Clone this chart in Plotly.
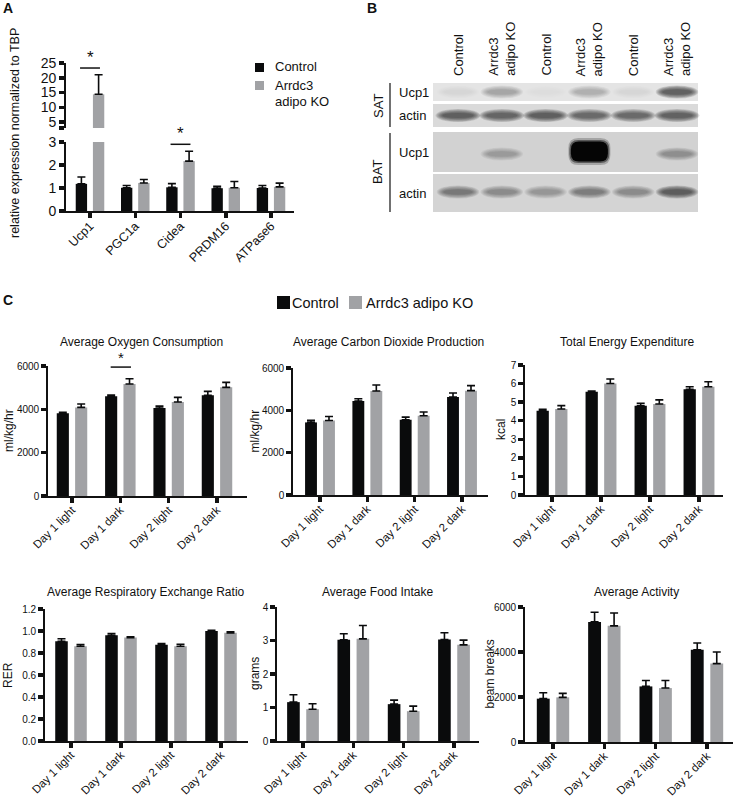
import plotly.graph_objects as go

W, H = 734, 799
FONT = "Liberation Sans, Arial, Helvetica, sans-serif"
INK = "#111111"
BLACK = "#0a0b0c"
GRAY = "#a1a2a5"

# ---------------- data ----------------
genes = ["Ucp1", "PGC1a", "Cidea", "PRDM16", "ATPase6"]
a_ctrl = [1.18, 1.01, 1.03, 0.99, 1.0]
a_ctrl_err = [0.30, 0.10, 0.16, 0.08, 0.11]
a_ko = [14.4, 1.22, 2.17, 1.01, 1.05]
a_ko_err = [6.6, 0.15, 0.43, 0.27, 0.16]

days = ["Day 1 light", "Day 1 dark", "Day 2 light", "Day 2 dark"]
o2_ctrl = [3815, 4600, 4060, 4645]
o2_ctrl_err = [45, 60, 90, 185]
o2_ko = [4090, 5170, 4340, 5015]
o2_ko_err = [155, 245, 210, 230]
co2_ctrl = [3430, 4440, 3555, 4630]
co2_ctrl_err = [95, 110, 125, 190]
co2_ko = [3520, 4910, 3745, 4930]
co2_ko_err = [190, 285, 175, 235]
tee_ctrl = [4.54, 5.56, 4.81, 5.69]
tee_ctrl_err = [0.07, 0.04, 0.13, 0.14]
tee_ko = [4.63, 6.0, 4.9, 5.83]
tee_ko_err = [0.18, 0.25, 0.22, 0.27]
rer_ctrl = [0.907, 0.962, 0.874, 1.0]
rer_ctrl_err = [0.023, 0.015, 0.012, 0.007]
rer_ko = [0.862, 0.94, 0.862, 0.983]
rer_ko_err = [0.015, 0.007, 0.018, 0.009]
food_ctrl = [1.16, 3.02, 1.10, 3.03]
food_ctrl_err = [0.22, 0.18, 0.12, 0.20]
food_ko = [0.95, 3.05, 0.89, 2.87]
food_ko_err = [0.16, 0.40, 0.15, 0.14]
act_ctrl = [1926, 5338, 2470, 4103]
act_ctrl_err = [265, 427, 265, 294]
act_ko = [1985, 5162, 2397, 3485]
act_ko_err = [177, 573, 338, 515]

blot_lanes = ["Control", "Arrdc3<br>adipo KO"] * 3
sat_ucp1 = [0.05, 0.30, 0.03, 0.25, 0.04, 0.85]
sat_actin = [0.80, 0.75, 0.80, 0.72, 0.72, 0.78]
bat_ucp1 = [0.0, 0.30, 0.0, 1.0, 0.0, 0.40]
bat_actin = [0.55, 0.42, 0.32, 0.52, 0.42, 0.85]

# ---------------- helpers ----------------
def X(p):
    return p / W


def Y(p):
    return 1 - p / H


annotations = []
shapes = []
layout = {}


def text(t, x, y, size, **kw):
    d = dict(text=t, x=X(x), y=Y(y), xref="paper", yref="paper", showarrow=False,
             font=dict(family=FONT, size=size, color=INK), xanchor="center", yanchor="middle")
    d.update(kw)
    annotations.append(d)


def err(v):
    return dict(type="data", array=v, arrayminus=[0] * len(v), symmetric=False,
                color=BLACK, thickness=1.6, width=4)


fig = go.Figure()


def add_bars(n, cats, c, ce, k, ke):
    xa = "x" if n == 1 else f"x{n}"
    ya = "y" if n == 1 else f"y{n}"
    fig.add_trace(go.Bar(x=cats, y=c, error_y=err(ce), marker=dict(color=BLACK, line=dict(width=0)),
                         xaxis=xa, yaxis=ya, name="Control", showlegend=False, hoverinfo="skip"))
    fig.add_trace(go.Bar(x=cats, y=k, error_y=err(ke), marker=dict(color=GRAY, line=dict(width=0)),
                         xaxis=xa, yaxis=ya, name="Arrdc3 adipo KO", showlegend=False, hoverinfo="skip"))


def axes(n, xl, xr, yt, yb, c0, cN, ncat, yrange, tickvals, ticktext, ytsize, xtsize,
         xvisible=True):
    step = (cN - c0) / (ncat - 1)
    xk = "xaxis" if n == 1 else f"xaxis{n}"
    yk = "yaxis" if n == 1 else f"yaxis{n}"
    ya = "y" if n == 1 else f"y{n}"
    xa = "x" if n == 1 else f"x{n}"
    layout[xk] = dict(
        domain=[X(xl), X(xr)], range=[(xl - c0) / step, (xr - c0) / step], type="category",
        anchor=ya, showline=True, linecolor=INK, linewidth=1.8, ticks="outside",
        ticklen=5, tickwidth=3.5, tickcolor=INK, tickangle=-45, showgrid=False,
        zeroline=False, visible=xvisible, automargin=False, ticklabelstandoff=-4,
        tickfont=dict(family=FONT, size=xtsize, color=INK), fixedrange=True)
    layout[yk] = dict(
        domain=[Y(yb), Y(yt)], range=yrange, anchor=xa, showline=True, linecolor=INK,
        linewidth=1.8, ticks="outside", ticklen=5, tickwidth=3.5, tickcolor=INK,
        tickvals=tickvals, ticktext=ticktext, showgrid=False, zeroline=False, automargin=False,
        tickfont=dict(family=FONT, size=ytsize, color=INK), fixedrange=True)


# ---------------- panel A ----------------
add_bars(1, genes, a_ctrl, a_ctrl_err, a_ko, a_ko_err)
add_bars(2, genes, a_ctrl, a_ctrl_err, a_ko, a_ko_err)
axes(1, 66, 294, 142, 211, 90, 271, 5, [0, 3], [0, 1, 2, 3], ["0", "1", "2", "3"], 14, 12.5)
axes(2, 66, 294, 63, 128, 90, 271, 5, [3, 25], [3, 5, 10, 15, 20, 25],
     ["", "5", "10", "15", "20", "25"], 14, 12.5, xvisible=False)

# significance marks, panel A
shapes.append(dict(type="line", xref="x2", yref="y2", x0=-0.22, x1=0.22, y0=23.3, y1=23.3,
                   line=dict(color=INK, width=1.5)))
annotations.append(dict(text="*", xref="x2", yref="y2", x=0, y=23.0, showarrow=False,
                        yanchor="bottom", font=dict(family=FONT, size=17, color=INK)))
shapes.append(dict(type="line", xref="x", yref="y", x0=1.78, x1=2.22, y0=2.9, y1=2.9,
                   line=dict(color=INK, width=1.5)))
annotations.append(dict(text="*", xref="x", yref="y", x=2, y=2.85, showarrow=False,
                        yanchor="bottom", font=dict(family=FONT, size=17, color=INK)))

text("relative expression normalized to TBP", 15, 133, 12.5, textangle=-90)
text("<b>A</b>", 8, 8, 14)

# legend A
shapes.append(dict(type="rect", xref="paper", yref="paper", x0=X(255), x1=X(264), y0=Y(72), y1=Y(63),
                   fillcolor=BLACK, line=dict(width=0)))
shapes.append(dict(type="rect", xref="paper", yref="paper", x0=X(255), x1=X(264), y0=Y(90), y1=Y(81),
                   fillcolor=GRAY, line=dict(width=0)))
text("Control", 273, 67, 13, xanchor="left")
text("Arrdc3", 273, 86, 13, xanchor="left")
text("adipo KO", 273, 102, 13, xanchor="left")

# ---------------- panel B (western blot) ----------------
text("<b>B</b>", 372, 8, 14)
BL, BR = 433, 698
lane0, lane_step = 458, 43.8
strips = [(83, 101, "#e4e4e4"), (104, 127, "#dadada"), (132, 172, "#d2d2d2"), (174, 212, "#d4d4d4")]
for (t, b, col) in strips:
    shapes.append(dict(type="rect", xref="paper", yref="paper", x0=X(BL), x1=X(BR), y0=Y(b), y1=Y(t),
                       fillcolor=col, line=dict(width=0), layer="below"))


def band(cx, cy, w, h, v):
    if v <= 0.01:
        return
    nl = 7
    for i in range(nl):
        f = i / (nl - 1)
        ww = w * (1.25 - 0.4 * f)
        hh = h * (2.2 - 1.4 * f)
        shapes.append(dict(type="circle", xref="paper", yref="paper",
                           x0=X(cx - ww / 2), x1=X(cx + ww / 2), y0=Y(cy + hh / 2), y1=Y(cy - hh / 2),
                           fillcolor="#1a1a1a", opacity=min(1.0, 0.16 * v), line=dict(width=0)))


def rounded(x0, x1, y0, y1, r, color, opacity=1.0):
    path = (f"M {X(x0 + r)},{Y(y0)} L {X(x1 - r)},{Y(y0)} Q {X(x1)},{Y(y0)} {X(x1)},{Y(y0 + r)} "
            f"L {X(x1)},{Y(y1 - r)} Q {X(x1)},{Y(y1)} {X(x1 - r)},{Y(y1)} L {X(x0 + r)},{Y(y1)} "
            f"Q {X(x0)},{Y(y1)} {X(x0)},{Y(y1 - r)} L {X(x0)},{Y(y0 + r)} Q {X(x0)},{Y(y0)} {X(x0 + r)},{Y(y0)} Z")
    shapes.append(dict(type="path", xref="paper", yref="paper", path=path,
                       fillcolor=color, opacity=opacity, line=dict(width=0)))


for i, v in enumerate(sat_ucp1):
    band(lane0 + i * lane_step, 92, 34, 6, v)
for i, v in enumerate(sat_actin):
    band(lane0 + i * lane_step, 115.5, 36, 6, v)
for i, v in enumerate(bat_ucp1):
    cx = lane0 + i * lane_step
    if v > 0.9:
        # saturated band: dark rounded block with a soft edge
        rounded(cx - 21, cx + 21, 138, 165, 10, "#1a1a1a", 0.25)
        rounded(cx - 20, cx + 20, 140, 163, 9, "#111111", 0.5)
        rounded(cx - 18.5, cx + 18.5, 141.5, 161.5, 8, "#050505", 1.0)
    else:
        band(cx, 154, 34, 6, v)
for i, v in enumerate(bat_actin):
    band(lane0 + i * lane_step, 192, 34, 6, v)

for i, lab in enumerate(blot_lanes):
    text(lab, lane0 + i * lane_step, 78, 13, textangle=-90, yanchor="bottom", align="left")

text("SAT", 378, 106, 13, textangle=-90)
text("BAT", 378, 172, 13, textangle=-90)
shapes.append(dict(type="line", xref="paper", yref="paper", x0=X(390), x1=X(390), y0=Y(83), y1=Y(127),
                   line=dict(color=INK, width=1.2)))
shapes.append(dict(type="line", xref="paper", yref="paper", x0=X(390), x1=X(390), y0=Y(133), y1=Y(212),
                   line=dict(color=INK, width=1.2)))
text("Ucp1", 397, 92, 13, xanchor="left")
text("actin", 397, 116, 13, xanchor="left")
text("Ucp1", 397, 152, 13, xanchor="left")
text("actin", 397, 193, 13, xanchor="left")

# ---------------- panel C ----------------
text("<b>C</b>", 8, 300, 14)
shapes.append(dict(type="rect", xref="paper", yref="paper", x0=X(277), x1=X(290), y0=Y(309), y1=Y(296),
                   fillcolor=BLACK, line=dict(width=0)))
shapes.append(dict(type="rect", xref="paper", yref="paper", x0=X(349), x1=X(362), y0=Y(309), y1=Y(296),
                   fillcolor=GRAY, line=dict(width=0)))
text("Control", 290, 303, 14.5, xanchor="left")
text("Arrdc3 adipo KO", 364, 303, 14.5, xanchor="left")

panels = [
    dict(xl=48, xr=247, yt=366, yb=496, c0=72, cN=217, ymax=6000, step=2000, fmt="{:.0f}",
         title="Average Oxygen Consumption", tx=141, ty=342, ylab="ml/kg/hr", lx=9,
         c=o2_ctrl, ce=o2_ctrl_err, k=o2_ko, ke=o2_ko_err),
    dict(xl=293, xr=488, yt=368, yb=495, c0=320, cN=462, ymax=6000, step=2000, fmt="{:.0f}",
         title="Average Carbon Dioxide Production", tx=388, ty=342, ylab="ml/kg/hr", lx=254,
         c=co2_ctrl, ce=co2_ctrl_err, k=co2_ko, ke=co2_ko_err),
    dict(xl=525, xr=723, yt=365, yb=495, c0=552, cN=699, ymax=7, step=1, fmt="{:.0f}",
         title="Total Energy Expenditure", tx=627, ty=342, ylab="kcal", lx=501,
         c=tee_ctrl, ce=tee_ctrl_err, k=tee_ko, ke=tee_ko_err),
    dict(xl=45, xr=248, yt=609, yb=741, c0=71, cN=221, ymax=1.2, step=0.2, fmt="{:.1f}",
         title="Average Respiratory Exchange Ratio", tx=146, ty=592, ylab="RER", lx=8,
         c=rer_ctrl, ce=rer_ctrl_err, k=rer_ko, ke=rer_ko_err),
    dict(xl=277, xr=479, yt=607, yb=741, c0=303, cN=454, ymax=4, step=1, fmt="{:.0f}",
         title="Average Food Intake", tx=378, ty=592, ylab="grams", lx=255,
         c=food_ctrl, ce=food_ctrl_err, k=food_ko, ke=food_ko_err),
    dict(xl=525, xr=733, yt=607, yb=742, c0=553, cN=707, ymax=6000, step=2000, fmt="{:.0f}",
         title="Average Activity", tx=636, ty=592, ylab="beam breaks", lx=489,
         c=act_ctrl, ce=act_ctrl_err, k=act_ko, ke=act_ko_err),
]

for j, p in enumerate(panels):
    n = j + 3
    add_bars(n, days, p["c"], p["ce"], p["k"], p["ke"])
    nt = int(round(p["ymax"] / p["step"]))
    tv = [i * p["step"] for i in range(nt + 1)]
    tt = [p["fmt"].format(v) for v in tv]
    axes(n, p["xl"], p["xr"], p["yt"], p["yb"], p["c0"], p["cN"], 4, [0, p["ymax"]], tv, tt, 10, 11.5)
    text(p["title"], p["tx"], p["ty"], 12)
    text(p["ylab"], p["lx"], (p["yt"] + p["yb"]) / 2, 12, textangle=-90)

# significance in oxygen consumption
shapes.append(dict(type="line", xref="x3", yref="y3", x0=0.8, x1=1.22, y0=5950, y1=5950,
                   line=dict(color=INK, width=1.5)))
annotations.append(dict(text="*", xref="x3", yref="y3", x=1.01, y=5900, showarrow=False,
                        yanchor="bottom", font=dict(family=FONT, size=15, color=INK)))

fig.update_layout(
    width=W, height=H, margin=dict(l=0, r=0, t=0, b=0, pad=0, autoexpand=False),
    paper_bgcolor="white", plot_bgcolor="rgba(0,0,0,0)",
    barmode="group", bargap=0.24, bargroupgap=0.34,
    showlegend=False, font=dict(family=FONT, color=INK),
    annotations=annotations, shapes=shapes, **layout,
)

fig.write_html(
    "out.html",
    config={"displayModeBar": False, "staticPlot": True},
    post_script="document.body.style.margin='0';document.body.style.padding='0';"
                "document.body.style.overflow='hidden';document.documentElement.style.overflow='hidden';",
)
